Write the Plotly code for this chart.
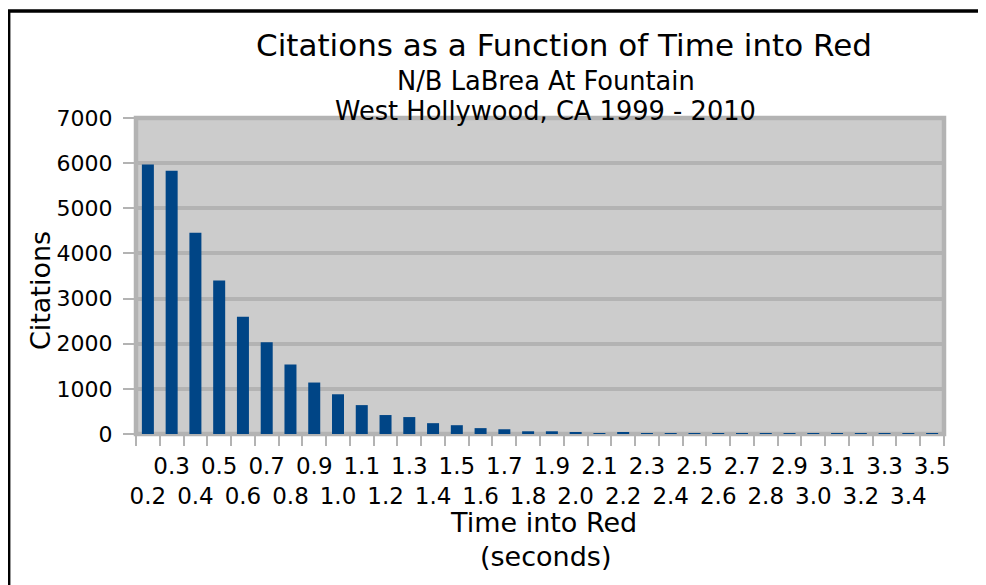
import plotly.graph_objects as go

categories = ["0.2", "0.3", "0.4", "0.5", "0.6", "0.7", "0.8", "0.9", "1.0", "1.1",
              "1.2", "1.3", "1.4", "1.5", "1.6", "1.7", "1.8", "1.9", "2.0", "2.1",
              "2.2", "2.3", "2.4", "2.5", "2.6", "2.7", "2.8", "2.9", "3.0", "3.1",
              "3.2", "3.3", "3.4", "3.5"]
citations = [5970, 5830, 4460, 3400, 2600, 2030, 1540, 1140, 880, 640,
             420, 375, 240, 195, 130, 105, 60, 60, 40, 20,
             40, 20, 20, 20, 20, 20, 20, 20, 20, 20,
             20, 20, 20, 20]
y_ticks = [0, 1000, 2000, 3000, 4000, 5000, 6000, 7000]

title_lines = ["Citations as a Function of Time into Red",
               "N/B LaBrea At Fountain",
               "West Hollywood, CA 1999 - 2010"]
x_title_lines = ["Time into Red", "(seconds)"]
y_title = "Citations"

# the page body has an 8px margin: lay out in page pixels, offset into figure pixels
OFF = 8
W, H = 986 - OFF, 585 - OFF
PL, PR, PT, PB = 135.5, 944.5, 118, 434          # plot area in page pixels
L, T = PL - OFF, PT - OFF
R, B = W - (PR - OFF), H - (PB - OFF)
PW, PH = W - L - R, H - T - B
FONT = "DejaVu Sans"
GRID = "#b3b3b3"


def px(x):
    return (x - OFF - L) / PW


def py(y):
    return (PB - y) / PH


# staggered tick labels: even index on lower row, odd index on upper row
ticktext = [("\u00a0<br>" + c) if i % 2 == 0 else c for i, c in enumerate(categories)]

fig = go.Figure()
fig.add_trace(go.Bar(x=categories, y=citations, marker=dict(color="#004586", line=dict(width=0)),
                     hoverinfo="x+y"))

fig.update_layout(
    width=W, height=H,
    margin=dict(l=L, r=R, t=T, b=B, pad=0),
    paper_bgcolor="white",
    plot_bgcolor="#cccccc",
    bargap=0.495,
    showlegend=False,
    font=dict(family=FONT, color="black"),
)

fig.update_xaxes(
    type="category",
    tickmode="array", tickvals=categories, ticktext=ticktext,
    tickson="boundaries", ticks="outside", ticklen=11, tickwidth=1.5, tickcolor=GRID,
    tickangle=0, tickfont=dict(family=FONT, size=23, color="black"),
    ticklabelstandoff=16,
    showgrid=False, zeroline=False, showline=False,
)
fig.update_yaxes(
    range=[0, 7000], tickmode="array", tickvals=y_ticks,
    ticks="outside", ticklen=12, tickwidth=1.5, tickcolor=GRID,
    tickfont=dict(family=FONT, size=22, color="black"),
    showgrid=True, gridcolor=GRID, gridwidth=4,
    zeroline=False, showline=False, ticklabelstandoff=6,
)

# plot area border
fig.add_shape(type="rect", xref="x domain", yref="y domain", x0=0, x1=1, y0=0, y1=1,
              line=dict(color=GRID, width=4.5), layer="below")
# outer black frame
fig.add_shape(type="rect", xref="paper", yref="paper",
              x0=px(8), x1=px(981), y0=py(640), y1=py(11),
              line=dict(color="black", width=3.5), layer="above")

ann = [
    (title_lines[0], 564, 44.5, 31, 0),
    (title_lines[1], 546.5, 80.5, 25.7, 0),
    (title_lines[2], 546, 111.5, 25.7, 0),
    (x_title_lines[0], 544, 522, 27, 0),
    (x_title_lines[1], 546, 556, 27, 0),
    (y_title, 40, 290.5, 27, -90),
]
for text, xx, yy, size, ang in ann:
    fig.add_annotation(text=text, xref="paper", yref="paper", x=px(xx), y=py(yy),
                       xanchor="center", yanchor="middle", showarrow=False, textangle=ang,
                       font=dict(family=FONT, size=size, color="black"))

fig.write_html("out.html")
